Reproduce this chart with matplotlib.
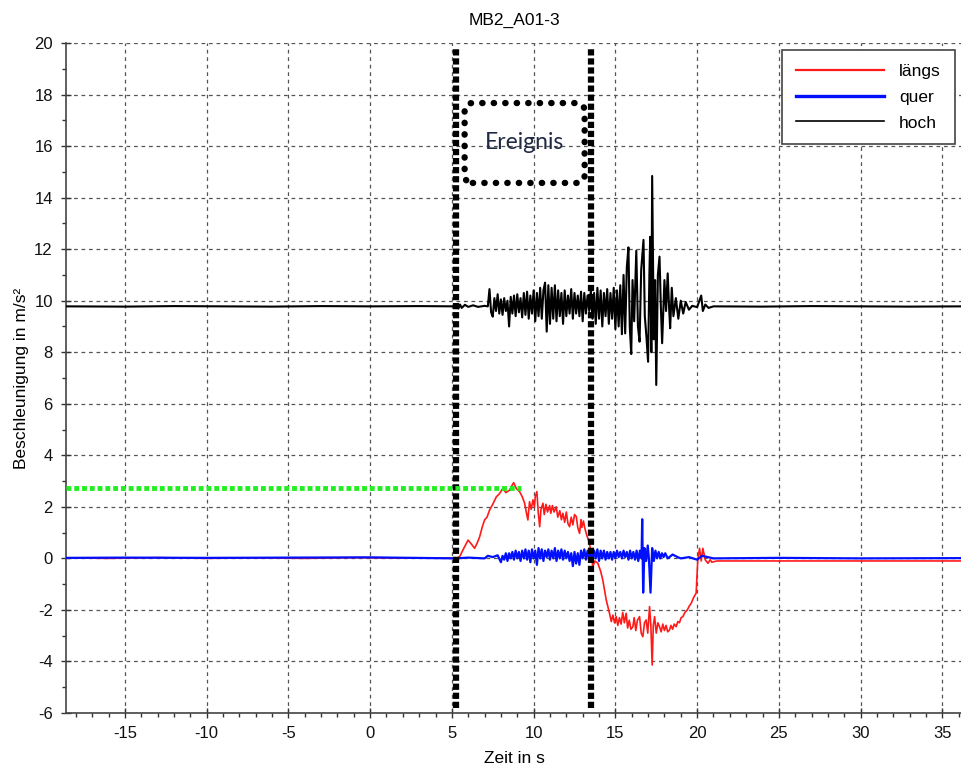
import matplotlib
matplotlib.use("Agg")
import matplotlib.pyplot as plt
from matplotlib.patches import FancyBboxPatch
from matplotlib.ticker import MultipleLocator

plt.rcParams['font.family'] = ['Liberation Sans', 'DejaVu Sans']
plt.rcParams['axes.unicode_minus'] = False

# ---------------- data ----------------
title = "MB2_A01-3"
x_label = "Zeit in s"
y_label = "Beschleunigung in m/s²"
series_names = ["längs", "quer", "hoch"]
x_ticks = [-15, -10, -5, 0, 5, 10, 15, 20, 25, 30, 35]
y_ticks = [-6, -4, -2, 0, 2, 4, 6, 8, 10, 12, 14, 16, 18, 20]

# längs (red)
t_laengs = [-18.6, -16, -13, -10, -7, -4, -1, 2, 4, 5.3, 5.48, 5.68, 5.99, 6.2, 6.39, 6.55, 6.70,
            6.85, 7.0, 7.15, 7.31, 7.5, 7.72, 7.9, 8.12, 8.3, 8.53, 8.65, 8.78, 8.95, 9.14, 9.3,
            9.45, 9.55, 9.65, 9.75, 9.85, 9.96, 10.05, 10.1, 10.2, 10.28, 10.37, 10.45, 10.57,
            10.65, 10.75, 10.85, 10.98, 11.05, 11.15, 11.25, 11.38, 11.48, 11.6, 11.7, 11.79,
            11.9, 12.0, 12.1, 12.2, 12.3, 12.4, 12.5, 12.61, 12.7, 12.81, 12.9, 12.95, 13.05,
            13.12, 13.25, 13.42, 13.62, 13.75, 13.93, 14.1, 14.23, 14.44, 14.64, 14.75, 14.85,
            14.95, 15.05, 15.15, 15.25, 15.35, 15.45, 15.55, 15.66, 15.75, 15.85, 15.95, 16.07,
            16.15, 16.25, 16.35, 16.48, 16.58, 16.68, 16.78, 16.88, 16.98, 17.09, 17.17, 17.25,
            17.32, 17.4, 17.5, 17.6, 17.7, 17.8, 17.9, 18.0, 18.1, 18.2, 18.31, 18.4, 18.5,
            18.6, 18.72, 18.82, 18.92, 19.02, 19.13, 19.25, 19.4, 19.52, 19.64, 19.8, 19.94,
            20.04, 20.15, 20.25, 20.35, 20.5, 20.66, 20.8, 20.9, 21.2, 23, 26, 29, 32, 36.2]
v_laengs = [0.02, 0.0, 0.03, 0.0, 0.02, 0.0, 0.03, 0.01, 0.02, 0.0, 0.07, 0.33, 0.71, 0.55, 0.39,
            0.6, 0.84, 1.2, 1.49, 1.6, 1.88, 2.1, 2.39, 2.5, 2.72, 2.55, 2.65, 2.8, 2.94, 2.7,
            2.59, 2.4, 2.14, 1.8, 1.49, 2.2, 1.9, 2.27, 2.0, 2.4, 2.59, 1.8, 1.23, 1.9, 2.14, 1.7,
            2.1, 1.8, 2.05, 1.75, 2.05, 1.8, 2.0, 1.6, 1.85, 1.5, 1.75, 1.4, 1.8, 1.35, 1.23,
            1.6, 1.3, 1.7, 1.62, 1.2, 0.97, 1.5, 1.2, 1.45, 1.2, 0.9, 0.58, -0.32, -0.1, -0.19,
            -0.5, -0.84, -1.61, -2.13, -2.45, -2.2, -2.5, -2.26, -2.6, -2.3, -2.55, -2.1, -2.5,
            -2.13, -2.7, -2.4, -2.75, -2.65, -2.3, -2.8, -2.4, -2.26, -2.9, -3.04, -2.5, -2.39,
            -2.9, -1.87, -2.6, -4.14, -2.6, -2.26, -2.9, -2.5, -2.65, -2.85, -2.55, -2.8, -2.6,
            -2.85, -2.78, -2.6, -2.75, -2.55, -2.65, -2.45, -2.5, -2.3, -2.26, -2.1, -2.0,
            -1.85, -1.74, -1.5, -1.35, -0.06, 0.39, -0.1, 0.39, -0.06, -0.19, -0.05, -0.15,
            -0.1, -0.1, -0.1, -0.1, -0.1, -0.1]

# quer (blue)
t_quer = [-18.6, -15, -10, -5, 0, 5.3, 6.0, 7.0, 7.2, 7.5, 7.8, 8.0, 8.1, 8.2, 8.3, 8.4, 8.5,
          8.6, 8.7, 8.8, 8.9, 9.0, 9.1, 9.2, 9.3, 9.4, 9.5, 9.6, 9.7, 9.8, 9.9, 10.0, 10.1,
          10.2, 10.3, 10.4, 10.5, 10.6, 10.7, 10.8, 10.9, 11.0, 11.1, 11.2, 11.3, 11.4, 11.5,
          11.6, 11.7, 11.8, 11.9, 12.0, 12.1, 12.2, 12.3, 12.4, 12.5, 12.6, 12.7, 12.8, 12.9,
          13.0, 13.1, 13.2, 13.3, 13.4, 13.5, 13.6, 13.7, 13.8, 13.9, 14.0, 14.1, 14.2, 14.3,
          14.4, 14.5, 14.6, 14.7, 14.8, 14.9, 15.0, 15.1, 15.2, 15.3, 15.4, 15.5, 15.6, 15.7,
          15.8, 15.9, 16.0, 16.1, 16.2, 16.3, 16.4, 16.5, 16.6, 16.64, 16.7, 16.78, 16.88,
          16.98, 17.05, 17.15, 17.25, 17.35, 17.45, 17.55, 17.65, 17.75, 17.85, 17.95, 18.05,
          18.2, 18.5, 18.8, 19.0, 19.5, 20.0, 20.3, 21.0, 25, 30, 36.2]
v_quer = [0.02, 0.03, 0.02, 0.03, 0.04, 0.0, 0.03, 0.0, 0.1, 0.05, 0.12, -0.15, 0.1, -0.05,
          0.2, -0.1, 0.2, 0.0, 0.25, -0.05, 0.3, 0.0, 0.25, -0.1, 0.3, 0.0, 0.35, -0.05, 0.3,
          -0.15, 0.35, 0.0, 0.3, -0.25, 0.4, 0.0, 0.35, -0.1, 0.3, 0.05, 0.35, -0.05, 0.3, 0.0,
          0.4, -0.1, 0.3, 0.0, 0.35, -0.05, 0.3, 0.0, 0.25, -0.1, 0.2, -0.3, 0.25, -0.2, 0.2,
          -0.25, 0.3, 0.0, 0.35, -0.05, 0.3, 0.0, 0.35, -0.05, 0.3, 0.0, 0.35, -0.1, 0.3, 0.0,
          0.3, -0.05, 0.25, 0.0, 0.25, -0.05, 0.25, 0.0, 0.3, 0.05, 0.25, 0.0, 0.3, 0.05, 0.25,
          -0.05, 0.3, 0.0, 0.25, -0.05, 0.3, -0.1, 0.3, 0.0, 1.52, -1.33, 0.4, -0.1, 0.5, 0.0,
          -1.33, 0.4, -0.1, 0.3, 0.0, 0.25, 0.0, 0.2, 0.05, 0.2, 0.0, 0.15, 0.05, 0.0, 0.05,
          -0.05, 0.1, 0.0, 0.02, 0.0, 0.01]

# hoch (black)
t_hoch = [-18.6, -15, -12, -9, -6, -3, 0, 3, 5.3, 5.4, 5.5, 5.6, 5.8, 6.0, 6.3, 6.6, 7.0, 7.2,
          7.3, 7.4, 7.5, 7.6, 7.7, 7.8, 7.9, 8.0, 8.1, 8.2, 8.3, 8.4, 8.5, 8.6, 8.7, 8.8, 8.9,
          9.0, 9.1, 9.2, 9.3, 9.4, 9.5, 9.6, 9.7, 9.8, 9.9, 10.0, 10.1, 10.2, 10.3, 10.4, 10.5,
          10.6, 10.7, 10.8, 10.9, 11.0, 11.1, 11.2, 11.3, 11.4, 11.5, 11.6, 11.7, 11.8, 11.9,
          12.0, 12.1, 12.2, 12.3, 12.4, 12.5, 12.6, 12.7, 12.8, 12.9, 13.0, 13.1, 13.2, 13.3,
          13.4, 13.5, 13.6, 13.7, 13.8, 13.9, 14.0, 14.1, 14.2, 14.3, 14.4, 14.5, 14.6, 14.7,
          14.8, 14.9, 15.0, 15.1, 15.2, 15.3, 15.4, 15.5, 15.6, 15.7, 15.8, 15.88, 15.97,
          16.05, 16.15, 16.28, 16.38, 16.48, 16.58, 16.72, 16.8, 16.9, 17.0, 17.08, 17.13,
          17.2, 17.25, 17.35, 17.43, 17.5, 17.6, 17.7, 17.78, 17.86, 18.0, 18.1, 18.2, 18.28,
          18.35, 18.45, 18.55, 18.7, 18.85, 19.0, 19.15, 19.3, 19.5, 19.7, 20.0, 20.25, 20.35,
          20.5, 20.7, 21.0, 24, 27, 30, 33, 36.2]
v_hoch = [9.78, 9.77, 9.79, 9.78, 9.77, 9.79, 9.78, 9.79, 9.78, 9.70, 9.85, 9.72, 9.84, 9.76,
          9.82, 9.76, 9.80, 9.78, 10.45, 9.55, 9.38, 10.1, 9.6, 10.25, 9.5, 10.05, 9.45, 10.1,
          9.6, 10.0, 9.0, 10.15, 9.5, 10.2, 9.4, 10.25, 9.55, 10.1, 9.35, 10.3, 9.45, 10.35,
          9.3, 10.2, 9.5, 10.4, 9.2, 10.3, 9.4, 10.5, 9.3, 10.4, 10.7, 8.8, 10.6, 9.1, 10.5,
          9.3, 10.6, 9.2, 10.4, 9.4, 10.3, 9.1, 10.4, 9.4, 10.2, 9.5, 10.45, 9.3, 10.3, 9.5,
          10.2, 9.4, 10.35, 9.2, 10.3, 9.5, 10.2, 9.6, 10.4, 9.3, 10.3, 9.1, 10.5, 9.3, 10.4,
          9.0, 10.3, 9.4, 10.45, 9.1, 10.3, 9.3, 10.5, 8.9, 10.4, 9.0, 10.6, 8.7, 11.0, 8.73,
          11.3, 12.07, 9.0, 7.93, 10.8, 9.2, 11.94, 9.0, 8.41, 11.2, 12.36, 9.4, 8.6, 7.63,
          11.0, 12.48, 8.0, 14.84, 8.5, 10.8, 6.73, 11.0, 11.71, 9.8, 8.35, 10.8, 9.6, 11.06,
          9.8, 8.93, 10.5, 9.4, 10.1, 9.3, 10.0, 9.5, 9.95, 9.65, 9.8, 9.75, 10.2, 9.6, 9.85,
          9.72, 9.78, 9.77, 9.79, 9.78, 9.77, 9.78]

# annotations
event_start, event_end = 5.25, 13.5
event_label = "Ereignis"
threshold = 2.72
threshold_end = 9.2

# ---------------- figure ----------------
fig = plt.figure(figsize=(9.62, 7.74), dpi=100)
ax = fig.add_axes([66 / 962, 1 - 713 / 774, 896 / 962, 670 / 774])

ax.plot(t_laengs, v_laengs, color='#ff1a1a', lw=1.2, label=series_names[0], zorder=3)
ax.plot(t_quer, v_quer, color='#0010ff', lw=1.6, label=series_names[1], zorder=4)
ax.plot(t_hoch, v_hoch, color='black', lw=1.5, label=series_names[2], zorder=5)

ax.set_xlim(-18.6, 36.2)
ax.set_ylim(-6, 20)
ax.set_xticks(x_ticks)
ax.set_yticks(y_ticks)
ax.xaxis.set_minor_locator(MultipleLocator(1))
ax.yaxis.set_minor_locator(MultipleLocator(1))
ax.tick_params(which='major', direction='inout', length=7, width=1, color='#333333',
               labelsize=12, pad=6, labelcolor='#111111')
ax.tick_params(which='minor', direction='out', length=3, width=1, color='#333333')

ax.grid(True, which='major', color='#555555', lw=0.9, linestyle=(0, (3, 3)))
for s in ['top', 'right']:
    ax.spines[s].set_visible(False)
for s in ['left', 'bottom']:
    ax.spines[s].set_color('#444444')
    ax.spines[s].set_linewidth(1.2)

ax.set_title(title, fontsize=12.5, pad=13)
ax.set_xlabel(x_label, fontsize=12.5, labelpad=7)
ax.set_ylabel(y_label, fontsize=12.5, labelpad=4)

# event boundaries
for xv in (event_start, event_end):
    ax.plot([xv, xv], [-5.8, 19.85], color='black', lw=4.5,
            linestyle=(0, (1, 0.45)), dash_capstyle='butt', zorder=6)

# threshold (green)
ax.plot([-18.6, threshold_end], [threshold, threshold], color='#22ee22', lw=3.5,
        linestyle=(0, (1, 0.6)), dash_capstyle='butt', zorder=6)

# Ereignis box
box = FancyBboxPatch((5.78, 14.57), 13.12 - 5.78, 17.67 - 14.57,
                     boxstyle="round,pad=0,rounding_size=0.5", mutation_aspect=0.635,
                     fill=False, edgecolor='black', lw=4.6,
                     linestyle=(0, (0.05, 1.75)), capstyle='round', zorder=6)
ax.add_patch(box)
ax.text((5.78 + 13.12) / 2, 16.12, event_label, ha='center', va='center',
        fontsize=16.5, family=['Lato', 'DejaVu Sans'], color='#1f2a44', zorder=7)

leg = ax.legend(loc='upper right', bbox_to_anchor=(0.992, 0.99), borderaxespad=0,
                fontsize=12.5, handlelength=5.05, handletextpad=0.9, labelspacing=0.62,
                fancybox=False, framealpha=1, edgecolor='#444444', borderpad=0.8)
leg.get_frame().set_linewidth(1.2)
leg.set_zorder(10)
leg_lines = leg.get_lines()
leg_lines[0].set_linewidth(1.6)
leg_lines[1].set_linewidth(2.4)
leg_lines[2].set_linewidth(1.2)

fig.savefig("out.png", dpi=100)
